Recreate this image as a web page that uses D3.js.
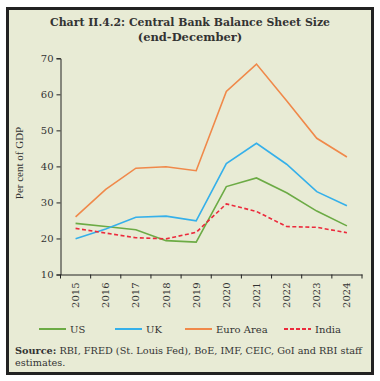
<!DOCTYPE html>
<html><head><meta charset="utf-8">
<script src="https://cdn.jsdelivr.net/npm/d3@7"></script>
<style>html,body{margin:0;padding:0;background:#fff;}svg{display:block;}</style>
</head><body>
<svg id="c" width="380" height="381"></svg>
<script>
const years = ["2015","2016","2017","2018","2019","2020","2021","2022","2023","2024"];
const us   = [24.2, 23.3, 22.4, 19.4, 19.0, 34.4, 36.8, 32.7, 27.6, 23.5];
const uk   = [19.9, 22.6, 25.9, 26.2, 24.9, 40.8, 46.4, 40.6, 33.0, 29.1];
const euro = [26.0, 33.6, 39.5, 39.9, 38.8, 60.8, 68.4, 58.2, 47.8, 42.6];
const india= [22.8, 21.5, 20.2, 19.9, 21.7, 29.6, 27.5, 23.3, 23.1, 21.6];
const yTicks = [10, 20, 30, 40, 50, 60, 70];
const seriesNames = ["US", "UK", "Euro Area", "India"];
const colors = ["#6cab45", "#35b0ea", "#f0894a", "#ec2a3c"];

const svg = d3.select("#c");
svg.append("rect").attr("x",7.5).attr("y",8.5).attr("width",365).attr("height",365)
  .attr("fill","#e8ebd5").attr("stroke","#222").attr("stroke-width",3);

const serif = "'DejaVu Serif', serif";
const t = svg.append("text").attr("x",190).attr("y",26).attr("text-anchor","middle")
  .attr("font-family",serif).attr("font-weight","bold").attr("font-size",11.5).attr("fill","#333");
t.append("tspan").attr("x",190).attr("dy",0).attr("textLength",280).attr("lengthAdjust","spacingAndGlyphs").text("Chart II.4.2: Central Bank Balance Sheet Size");
t.append("tspan").attr("x",190).attr("dy",14.5).text("(end-December)");

const x = d3.scaleBand().domain(years).range([60.5, 362]);
const y = d3.scaleLinear().domain([10, 70]).range([274.5, 58.3]);

const yAxis = svg.append("g").attr("transform","translate(60.5,0)")
  .call(d3.axisLeft(y).tickValues(yTicks).tickSize(4).tickPadding(3));
yAxis.select(".domain").attr("stroke","#222");
yAxis.selectAll("line").attr("stroke","#222");
yAxis.selectAll("text").attr("font-family",serif).attr("font-size",10).attr("fill","#333");

const xAxis = svg.append("g").attr("transform","translate(0,274.5)")
  .call(d3.axisBottom(x).tickSize(0).tickSizeOuter(0));
xAxis.select(".domain").attr("stroke","#222");
xAxis.selectAll(".tick line").remove();
xAxis.selectAll(".tick text").attr("font-family",serif).attr("font-size",10).attr("fill","#333")
  .attr("transform","rotate(-90)").attr("text-anchor","end").attr("x",-8).attr("y",0).attr("dy","0.35em");
const bounds = years.map(d => x(d)).concat([x(years[years.length-1]) + x.bandwidth()]);
svg.append("g").selectAll("line").data(bounds).join("line")
  .attr("x1",d=>d).attr("x2",d=>d).attr("y1",274.5).attr("y2",278.5).attr("stroke","#222");

svg.append("text").attr("transform","translate(23,163) rotate(-90)").attr("text-anchor","middle")
  .attr("font-family","'Liberation Serif', serif").attr("font-size",11).attr("fill","#333").text("Per cent of GDP");

const data = [us, uk, euro, india];
const line = d3.line().x((d,i)=>x(years[i]) + x.bandwidth()/2).y(d=>y(d));
data.forEach((s, k) => {
  svg.append("path").attr("d", line(s)).attr("fill","none").attr("stroke",colors[k])
    .attr("stroke-width",1.6).attr("stroke-dasharray", k===3 ? "4,2.5" : null);
});

const legX = [39, 115, 185, 284];
seriesNames.forEach((n,k) => {
  svg.append("line").attr("x1",legX[k]).attr("x2",legX[k]+27).attr("y1",329).attr("y2",329)
    .attr("stroke",colors[k]).attr("stroke-width",2).attr("stroke-dasharray", k===3 ? "4,2" : null);
  svg.append("text").attr("x",legX[k]+31).attr("y",332.5).attr("font-family",serif).attr("font-size",10)
    .attr("fill","#333").text(n);
});

const src = svg.append("text").attr("x",15).attr("y",354).attr("font-family",serif).attr("font-size",9.7).attr("fill","#333")
  .attr("textLength",347).attr("lengthAdjust","spacingAndGlyphs");
src.append("tspan").attr("font-weight","bold").text("Source:");
src.append("tspan").text(" RBI, FRED (St. Louis Fed), BoE, IMF, CEIC, GoI and RBI staff");
svg.append("text").attr("x",15).attr("y",365.5).attr("font-family",serif).attr("font-size",9.7).attr("fill","#333").text("estimates.");
</script>
</body></html>
